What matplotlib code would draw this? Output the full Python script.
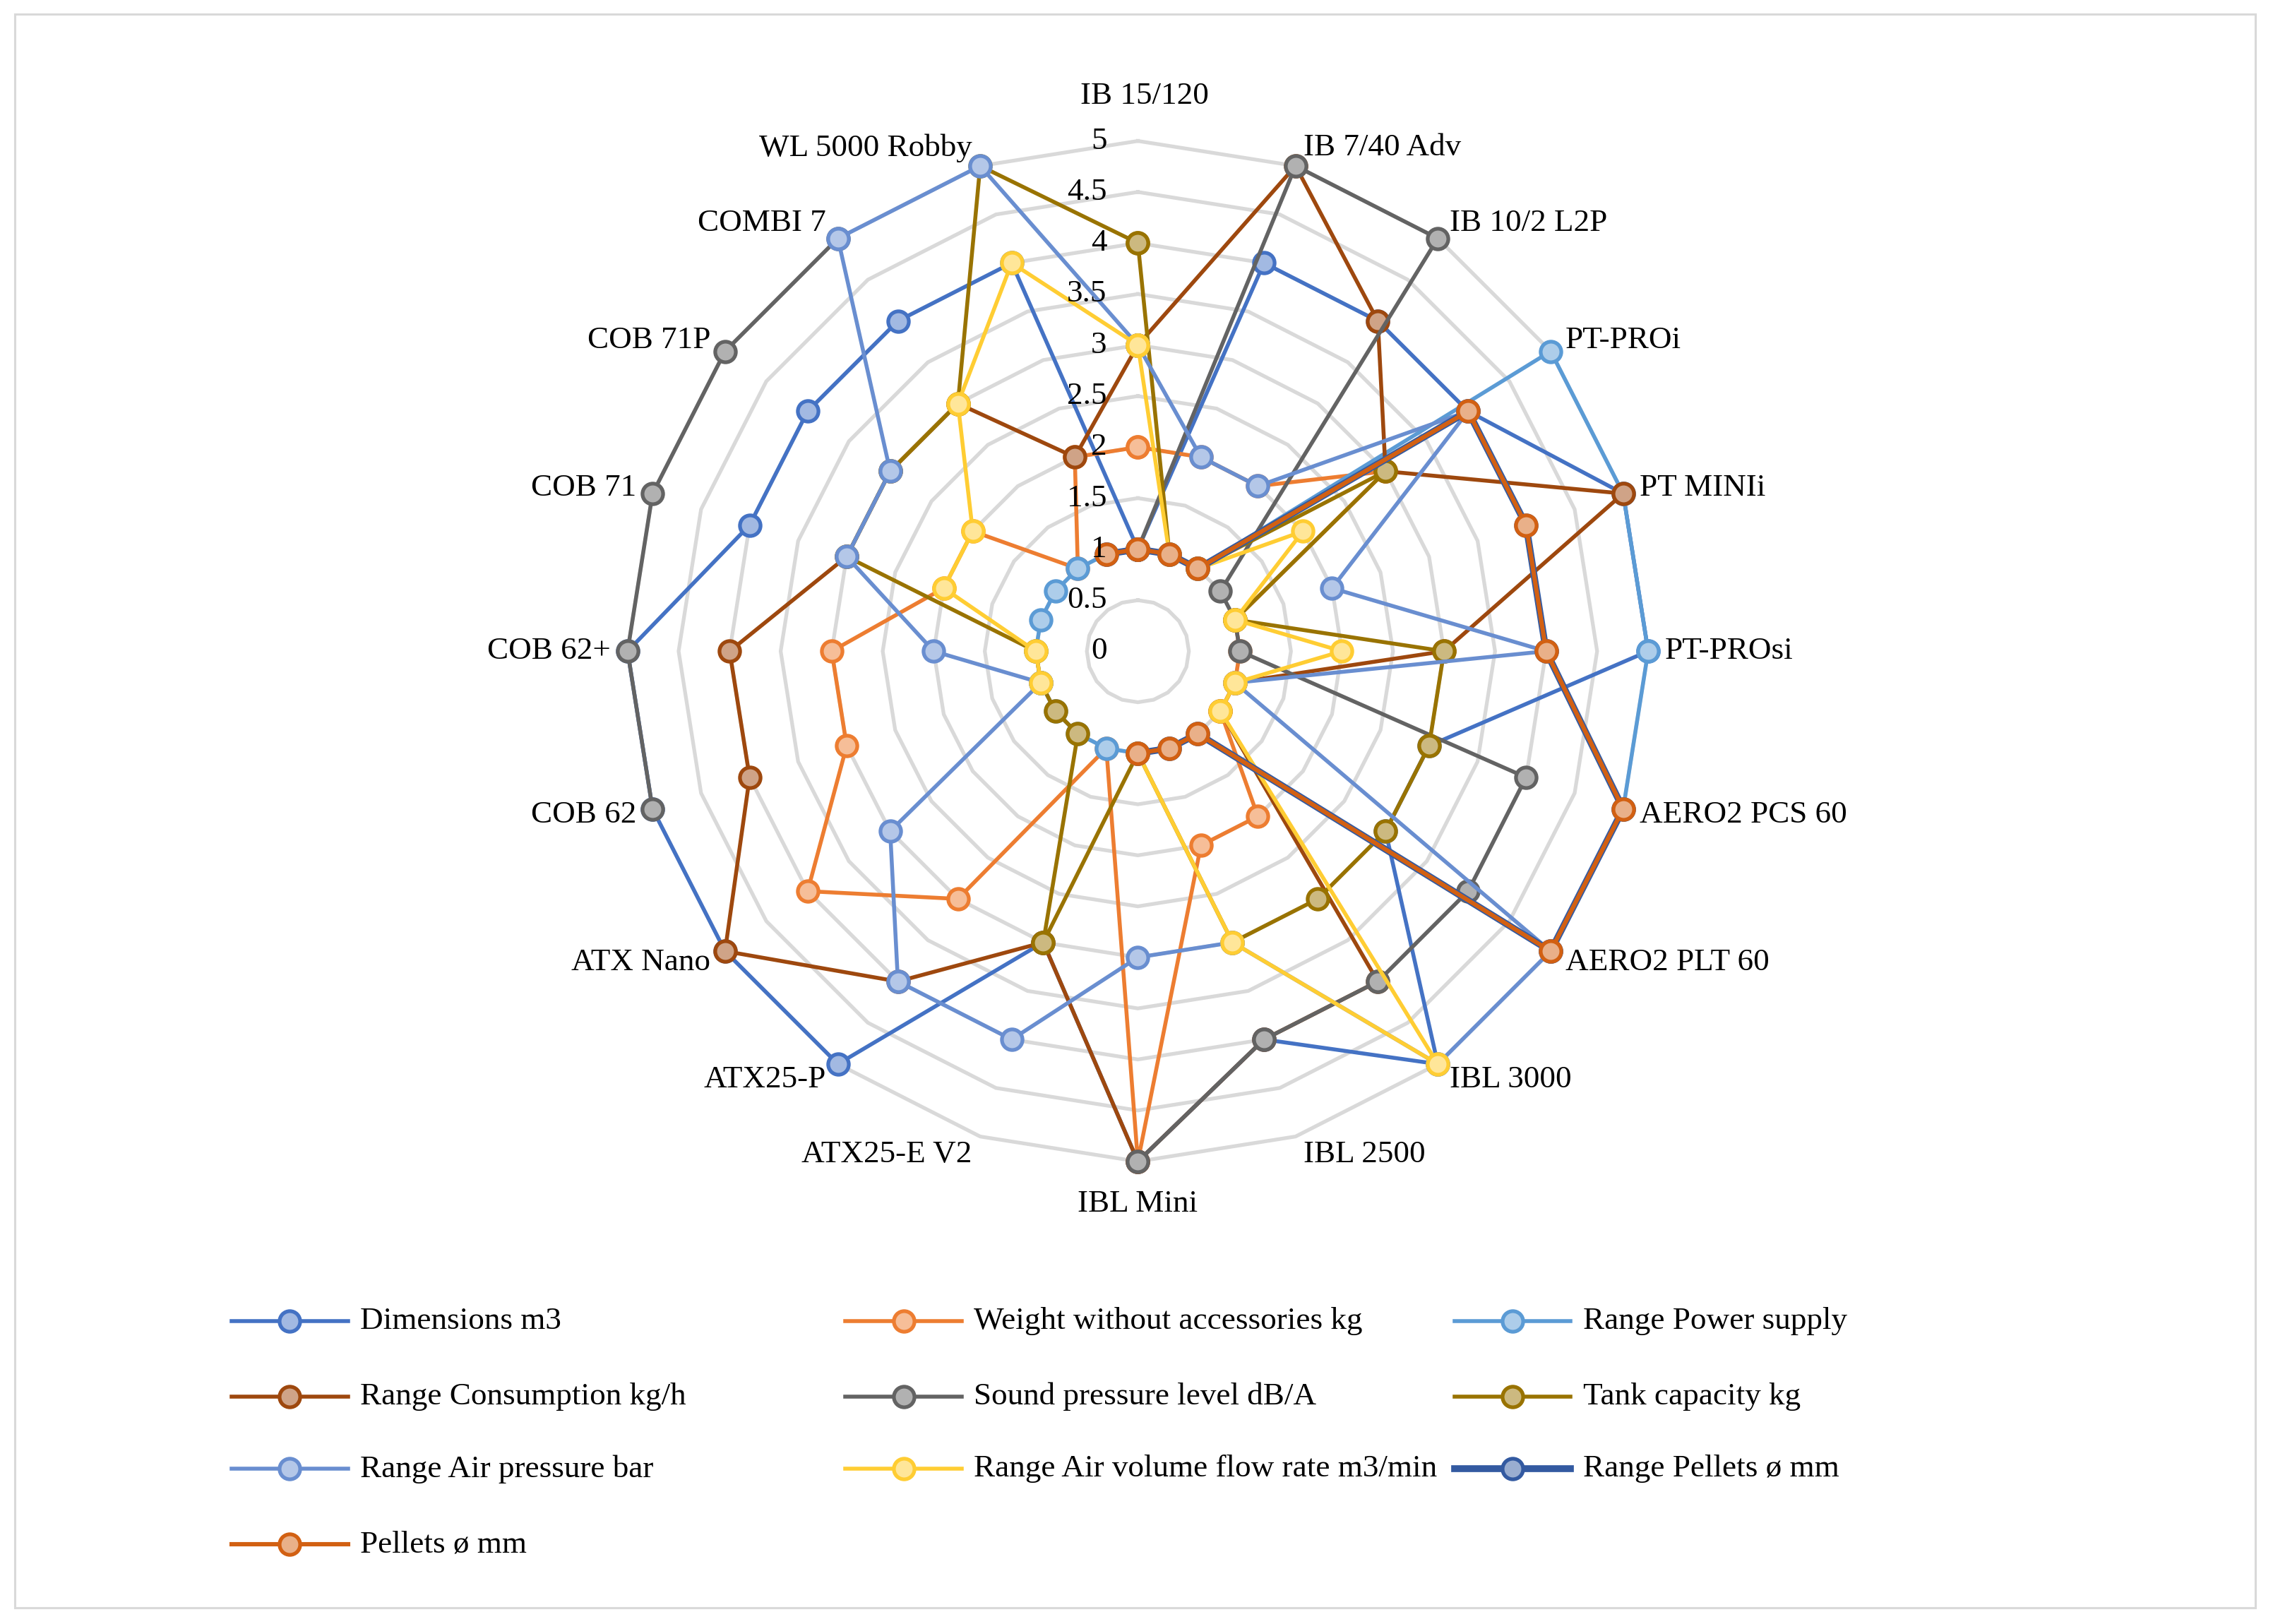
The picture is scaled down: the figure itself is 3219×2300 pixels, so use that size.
import matplotlib.pyplot as plt
import matplotlib.transforms as mtransforms
from matplotlib.lines import Line2D
from matplotlib.patches import Rectangle
import numpy as np

nan = np.nan

categories = ["IB 15/120", "IB 7/40 Adv", "IB 10/2 L2P", "PT-PROi", "PT MINIi",
              "PT-PROsi", "AERO2 PCS 60", "AERO2 PLT 60", "IBL 3000", "IBL 2500",
              "IBL Mini", "ATX25-E V2", "ATX25-P", "ATX Nano", "COB 62", "COB 62+",
              "COB 71", "COB 71P", "COMBI 7", "WL 5000 Robby"]

dimensions = [1, 4, 4, 4, 5, 5, 3, 3, 5, 4, 5, 3, 5, 5, 5, 5, 4, 4, 4, 4]
weight = [2, 2, 2, 3, 1, 1, 1, 1, 2, 2, 5, 1, 3, 4, 3, 3, 2, 2, 1, 2]
power_supply = [1, 1, 1, 5, 5, 5, 5, 5, 1, 1, 1, 1, 1, 1, 1, 1, 1, 1, 1, 1]
consumption = [3, 5, 4, 3, 5, 3, 1, 1, 4, 4, 5, 3, 4, 5, 4, 4, 3, 3, 3, 2]
sound = [1, 5, 5, 1, 1, 1, 4, 4, 4, 4, 5, nan, nan, nan, 5, 5, 5, 5, 5, nan]
tank = [4, 1, 1, 3, 1, 3, 3, 3, 3, 3, 1, 3, 1, 1, 1, 1, 3, 3, 3, 5]
air_pressure = [3, 2, 2, 4, 2, 4, 1, 5, 5, 3, 3, 4, 4, 3, 1, 2, 3, 3, 5, 5]
air_volume = [3, 1, 1, 2, 1, 2, 1, 1, 5, 3, 1, nan, nan, nan, 1, 1, 2, 2, 3, 4]
range_pellets = [1, 1, 1, 4, 4, 4, 5, 5, 1, 1, 1, nan, nan, nan, nan, nan, nan, nan, nan, 1]
pellets = [1, 1, 1, 4, 4, 4, 5, 5, 1, 1, 1, nan, nan, nan, nan, nan, nan, nan, nan, 1]

series_names = ["Dimensions m3", "Weight without accessories kg", "Range Power supply",
                "Range Consumption kg/h", "Sound pressure level dB/A", "Tank capacity kg",
                "Range Air pressure bar", "Range Air volume flow rate m3/min",
                "Range Pellets ø mm", "Pellets ø mm"]
series_values = [dimensions, weight, power_supply, consumption, sound, tank,
                 air_pressure, air_volume, range_pellets, pellets]
colors = ["#4472C4", "#ED7D31", "#5B9BD5", "#9E480E", "#636363", "#997300",
          "#698ED0", "#FFCD33", "#335AA1", "#D26012"]
widths = [4.0, 4.0, 4.0, 4.0, 4.0, 4.0, 4.0, 4.0, 7.0, 4.4]

ticks = [0, 0.5, 1, 1.5, 2, 2.5, 3, 3.5, 4, 4.5, 5]

FONT = "Liberation Serif"
FS = 32.5
GRID = "#D9D9D9"
MS = 21


def lighten(hexcol, amount=0.5):
    rgb = np.array([int(hexcol[i:i + 2], 16) for i in (1, 3, 5)]) / 255.0
    return tuple(rgb + (1 - rgb) * amount)


fig = plt.figure(figsize=(32.19, 23.0), dpi=100)
fig.patches.append(Rectangle((0.0064, 0.0098), 0.9859, 0.9813, transform=fig.transFigure,
                             fill=False, edgecolor=GRID, linewidth=2.2))

ax = fig.add_axes([0.2761, 0.2847, 0.449, 0.6286], projection="polar")
ax.set_theta_offset(np.pi / 2)
ax.set_theta_direction(-1)
ax.set_ylim(0, 5)
ax.grid(False)
ax.spines["polar"].set_visible(False)
ax.set_xticks([])
ax.set_yticks([])
ax.patch.set_alpha(0)

n = len(categories)
angles = np.linspace(0, 2 * np.pi, n, endpoint=False)
closed = np.append(angles, angles[0])

# polygon grid rings
for v in ticks[1:]:
    ax.plot(closed, [v] * (n + 1), color=GRID, lw=3.8, zorder=1,
            solid_joinstyle="miter", clip_on=False)

# series
for k, (name, vals) in enumerate(zip(series_names, series_values)):
    vals_closed = np.append(vals, vals[0])
    ax.plot(closed, vals_closed, color=colors[k], lw=widths[k], marker="o", markersize=MS,
            markerfacecolor=lighten(colors[k], 0.5), markeredgecolor=colors[k],
            markeredgewidth=3.8, zorder=3 + k, solid_joinstyle="round", clip_on=False)

# radial value labels
for v in ticks:
    tr = mtransforms.offset_copy(ax.transData, fig=fig, x=-44, y=0, units="dots")
    ax.text(0, v, f"{v:g}", transform=tr, ha="right", va="center", fontsize=FS,
            family=FONT, zorder=20)

# category labels
for i, name in enumerate(categories):
    deg = i * 360 / n
    s, c = np.sin(np.radians(deg)), np.cos(np.radians(deg))
    if i == 0:
        ha, dx, dy = "center", 10, 64
    elif i == n // 2:
        ha, dx, dy = "center", 0, -60
    else:
        ha = "left" if deg < 180 else "right"
        dx = np.sign(s) * (6 + 18 * abs(s))
        dy = 27 * c
    tr = mtransforms.offset_copy(ax.transData, fig=fig, x=dx, y=dy, units="dots")
    ax.text(angles[i], 5, name, transform=tr, ha=ha, va="center", fontsize=FS,
            family=FONT, zorder=20)

# legend (Excel style, row-major, 3 columns)
col_x = [0.102, 0.372, 0.640]
row_y = [0.1866, 0.1402, 0.0955, 0.0491]
hlen = 0.051
for k, name in enumerate(series_names):
    r, cidx = divmod(k, 3)
    x0, y0 = col_x[cidx], row_y[r]
    fig.add_artist(Line2D([x0, x0 + hlen], [y0, y0], transform=fig.transFigure,
                          color=colors[k], lw=widths[k]))
    fig.add_artist(Line2D([x0 + hlen / 2], [y0], transform=fig.transFigure,
                          marker="o", markersize=MS, markerfacecolor=lighten(colors[k], 0.5),
                          markeredgecolor=colors[k], markeredgewidth=3.8, lw=0))
    fig.text(x0 + hlen + 0.0055, y0, name, ha="left", va="center", fontsize=FS,
             family=FONT)

fig.savefig("out.png", dpi=100)
